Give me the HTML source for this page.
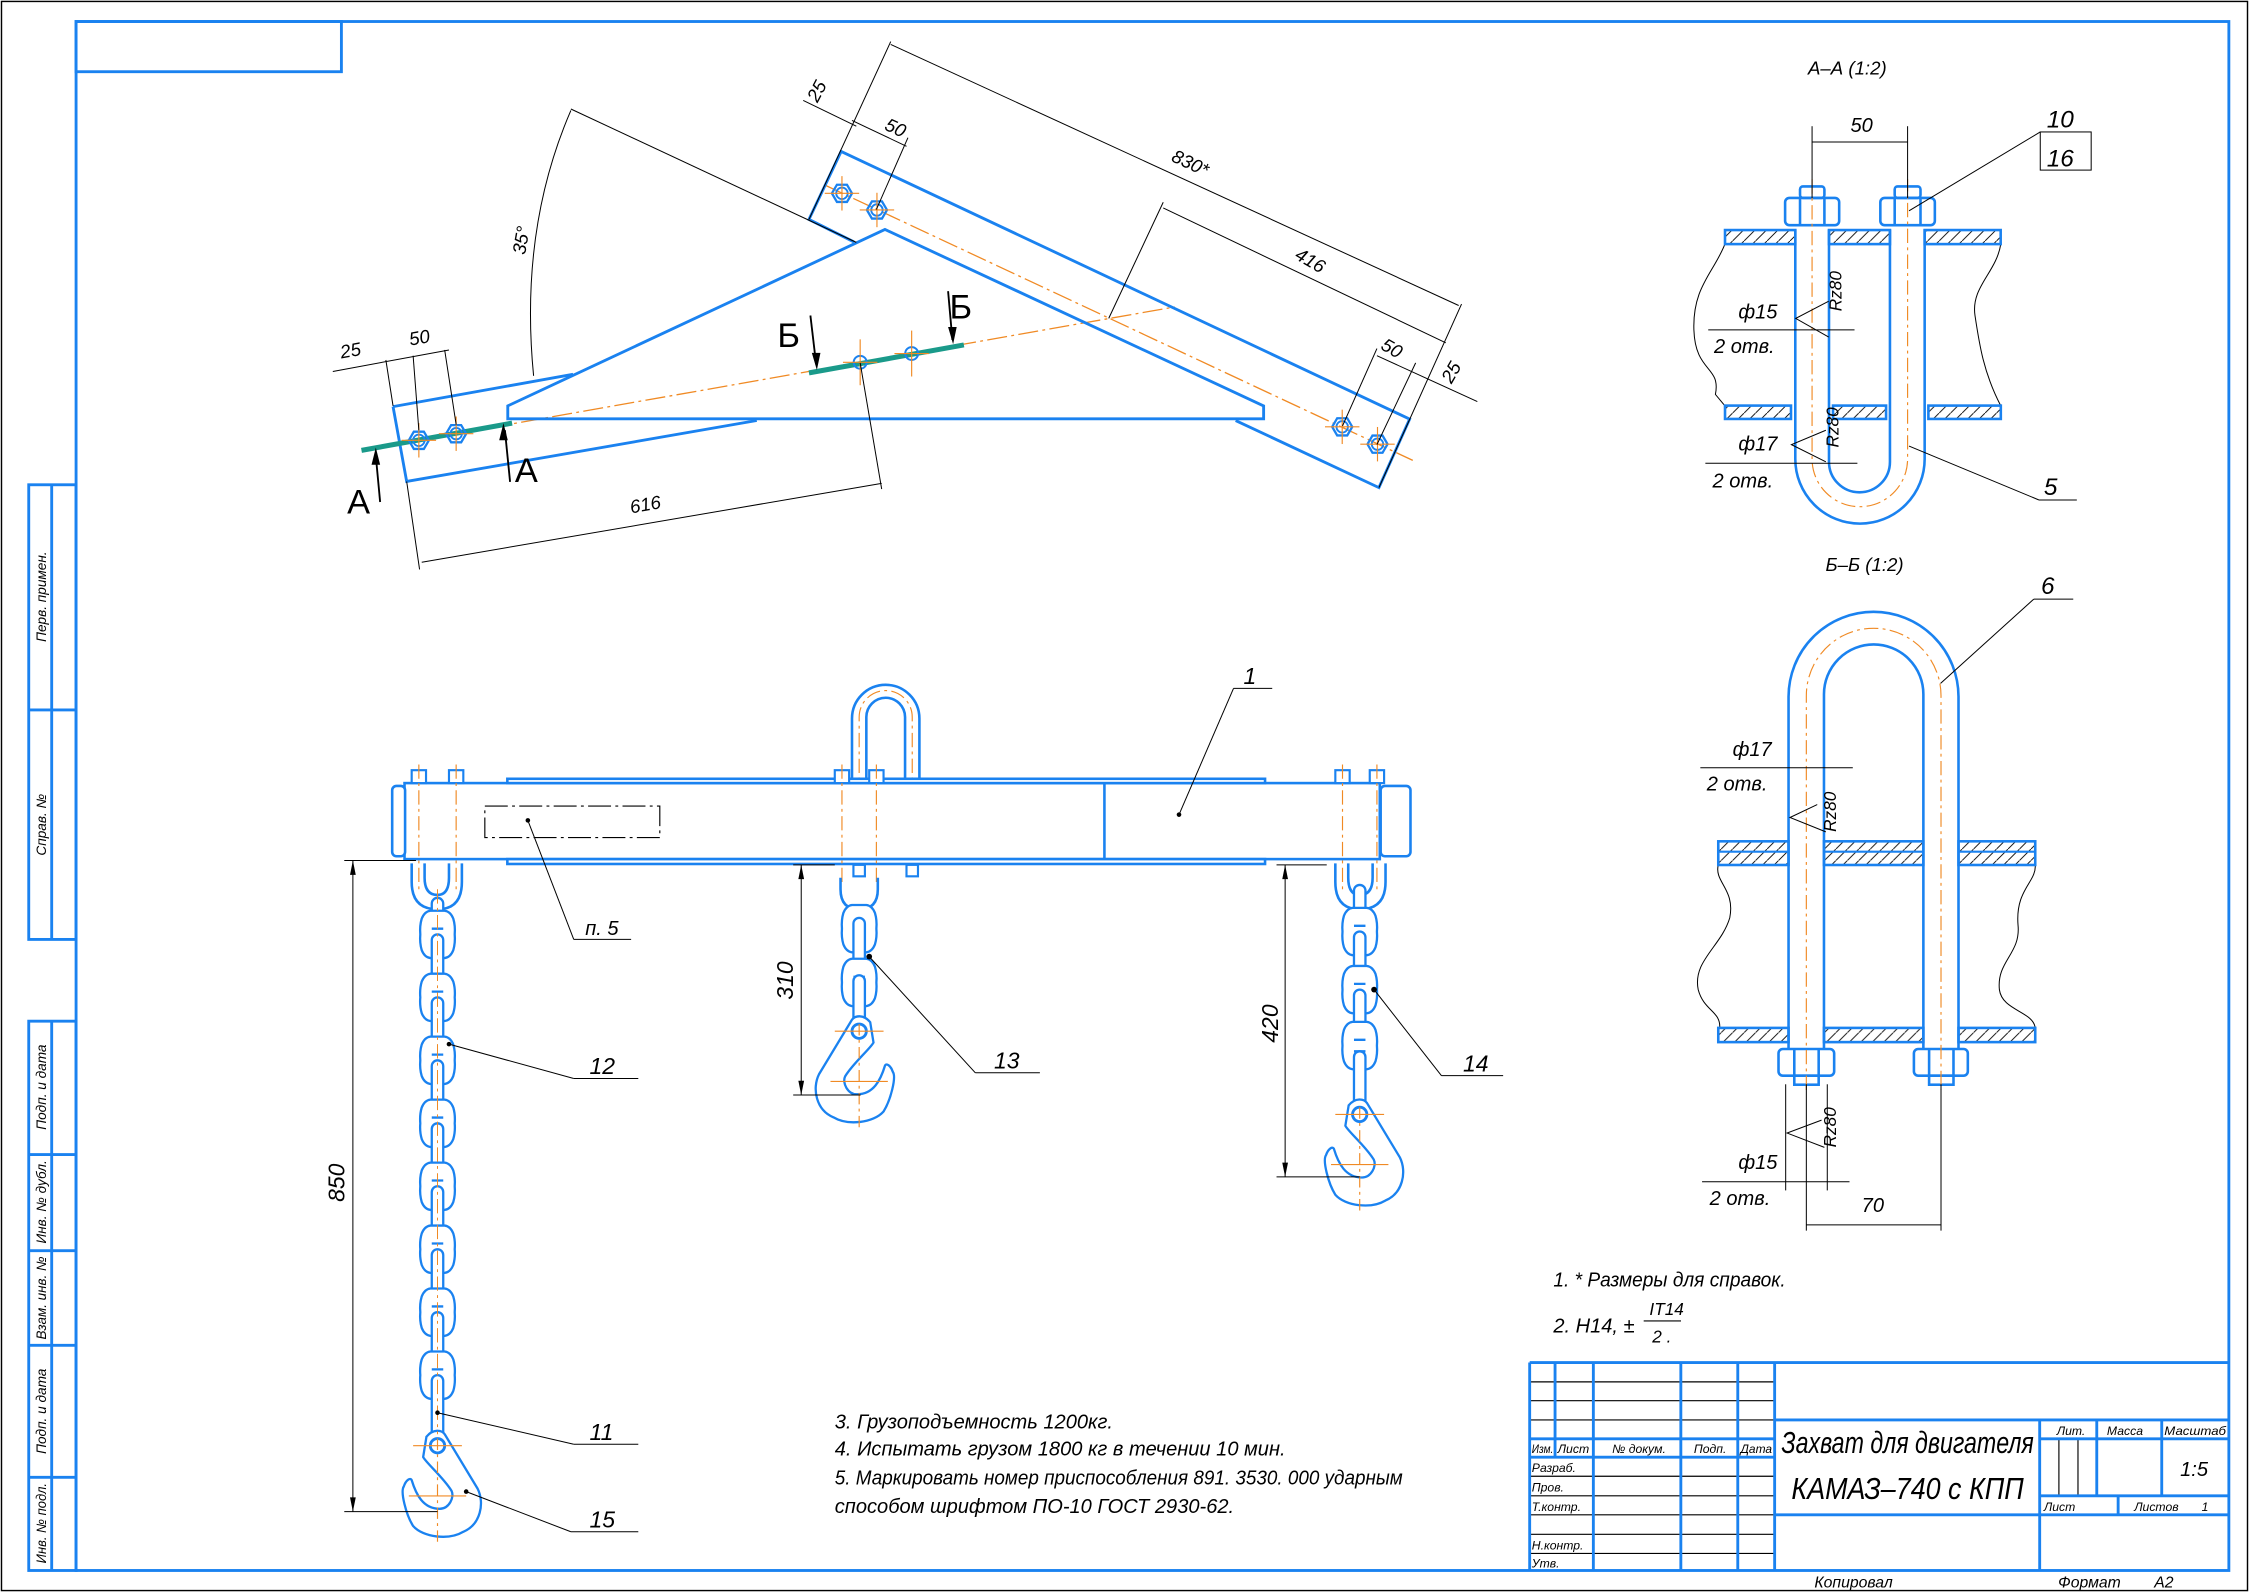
<!DOCTYPE html>
<html><head><meta charset="utf-8"><style>
html,body{margin:0;padding:0;background:#fff;}
svg{display:block;}
text{font-family:"Liberation Sans",sans-serif;font-style:italic;fill:#000;}
</style></head><body>
<svg width="2249" height="1592" viewBox="0 0 1568 1110" xmlns="http://www.w3.org/2000/svg">
<defs>
<pattern id="h" patternUnits="userSpaceOnUse" width="8" height="8"><line x1="0" y1="8" x2="8" y2="0" stroke="#000" stroke-width="0.6"/></pattern>
<g id="nut" fill="none"><polygon points="-7,0 -3.5,-6 3.5,-6 7,0 3.5,6 -3.5,6" stroke="#1a82f0" stroke-width="1.6"/><circle r="4" stroke="#1a82f0" stroke-width="1.3"/><line x1="-12" y1="0" x2="12" y2="0" stroke="#f08a24" stroke-width="0.8"/><line x1="0" y1="-12" x2="0" y2="12" stroke="#f08a24" stroke-width="0.8"/></g>
<g id="hole" fill="none"><circle r="4.5" stroke="#1a82f0" stroke-width="1.4"/><line x1="-12" y1="0" x2="12" y2="0" stroke="#f08a24" stroke-width="0.8"/><line x1="0" y1="-16" x2="0" y2="16" stroke="#f08a24" stroke-width="0.8"/></g>
<path id="wl" d="M -5 -16.5 L 5 -16.5 Q 9 -16 11 -11 Q 12.5 -6 12 0 Q 12.5 6 11 11 Q 9 16 5 16.5 L -5 16.5 Q -9 16 -11 11 Q -12.5 6 -12 0 Q -12.5 -6 -11 -11 Q -9 -16 -5 -16.5 Z M -4 -4 L 4 -4 M -4 4 L 4 4" fill="#fff" stroke="#1a82f0" stroke-width="1.6"/>
<rect id="nl" x="-4" y="0" width="8" height="44" rx="4" fill="#fff" stroke="#1a82f0" stroke-width="1.6"/>
<g id="hook"><path d="M -7.7 -6.3 C -3 -12 3 -11 5.1 -7.9 L 28 30 C 33 40 30 55 18 60 C 8 66 -10 64 -17 56 C -22 48 -26 32 -23.5 28.4 C -22 24 -19 22 -18 24 C -15 34 -10 44 1.6 44 C 8 44 12 36 9.8 31.5 C 4 22 -8 12 -10 7.9 Z" fill="#fff" stroke="#1a82f0" stroke-width="1.6"/><circle r="5" fill="none" stroke="#1a82f0" stroke-width="2"/><line x1="-17" y1="0" x2="17" y2="0" stroke="#f08a24" stroke-width="0.8"/><line x1="-20" y1="35" x2="20" y2="35" stroke="#f08a24" stroke-width="0.8"/><line x1="0" y1="-5" x2="0" y2="68" stroke="#f08a24" stroke-width="0.8" stroke-dasharray="8 3 2 3"/></g>
</defs>

<rect x="1" y="1" width="1566" height="1108" fill="none" stroke="#000" stroke-width="1"/>
<g fill="none" stroke="#1a82f0" stroke-width="2">
<rect x="53" y="15" width="1501" height="1080"/>
<rect x="53" y="15" width="185" height="35"/>
<rect x="20" y="338" width="33" height="317"/>
<line x1="36" y1="338" x2="36" y2="655"/><line x1="20" y1="495" x2="53" y2="495"/>
<rect x="20" y="712" width="33" height="383"/>
<line x1="36" y1="712" x2="36" y2="1095"/>
<line x1="20" y1="805" x2="53" y2="805"/><line x1="20" y1="872" x2="53" y2="872"/><line x1="20" y1="938" x2="53" y2="938"/><line x1="20" y1="1030" x2="53" y2="1030"/>
</g>
<g font-size="9.5">
<text transform="translate(32,416) rotate(-90)" text-anchor="middle">Перв. примен.</text>
<text transform="translate(32,575) rotate(-90)" text-anchor="middle">Справ. №</text>
<text transform="translate(32,758) rotate(-90)" text-anchor="middle">Подп. и дата</text>
<text transform="translate(32,838) rotate(-90)" text-anchor="middle" textLength="58" lengthAdjust="spacingAndGlyphs">Инв. № дубл.</text>
<text transform="translate(32,905) rotate(-90)" text-anchor="middle" textLength="58" lengthAdjust="spacingAndGlyphs">Взам. инв. №</text>
<text transform="translate(32,984) rotate(-90)" text-anchor="middle">Подп. и дата</text>
<text transform="translate(32,1062) rotate(-90)" text-anchor="middle" textLength="56" lengthAdjust="spacingAndGlyphs">Инв. № подл.</text>
</g>

<g stroke="#000" stroke-width="0.8">
<line x1="1066.5" y1="963.5" x2="1237.3" y2="963.5"/><line x1="1066.5" y1="976.6" x2="1237.3" y2="976.6"/><line x1="1066.5" y1="990" x2="1237.3" y2="990"/>
<line x1="1066.5" y1="1029.3" x2="1237.3" y2="1029.3"/><line x1="1066.5" y1="1042.9" x2="1237.3" y2="1042.9"/><line x1="1066.5" y1="1056.2" x2="1237.3" y2="1056.2"/><line x1="1066.5" y1="1069.8" x2="1237.3" y2="1069.8"/><line x1="1066.5" y1="1083.1" x2="1237.3" y2="1083.1"/>
<line x1="1435.5" y1="1003.2" x2="1435.5" y2="1042.9"/><line x1="1448.8" y1="1003.2" x2="1448.8" y2="1042.9"/>
</g>
<g stroke="#1a82f0" stroke-width="2">
<line x1="1066.5" y1="950" x2="1554" y2="950"/>
<line x1="1066.5" y1="1003.2" x2="1237.3" y2="1003.2"/><line x1="1066.5" y1="1016" x2="1237.3" y2="1016"/>
<line x1="1237.3" y1="990" x2="1554" y2="990"/>
<line x1="1422.1" y1="1003.2" x2="1554" y2="1003.2"/>
<line x1="1422.1" y1="1042.9" x2="1554" y2="1042.9"/>
<line x1="1237.3" y1="1056.2" x2="1554" y2="1056.2"/>
<line x1="1066.5" y1="950" x2="1066.5" y2="1095"/>
<line x1="1084.2" y1="950" x2="1084.2" y2="1016"/>
<line x1="1110.9" y1="950" x2="1110.9" y2="1095"/>
<line x1="1171.9" y1="950" x2="1171.9" y2="1095"/>
<line x1="1211.6" y1="950" x2="1211.6" y2="1095"/>
<line x1="1237.3" y1="950" x2="1237.3" y2="1095"/>
<line x1="1422.1" y1="990" x2="1422.1" y2="1095"/>
<line x1="1461.9" y1="990" x2="1461.9" y2="1042.9"/>
<line x1="1507.2" y1="990" x2="1507.2" y2="1042.9"/>
<line x1="1476.8" y1="1042.9" x2="1476.8" y2="1056.2"/>
</g>
<g font-size="8.5">
<text x="1068" y="1013" textLength="15" lengthAdjust="spacingAndGlyphs">Изм.</text><text x="1086" y="1013" textLength="22" lengthAdjust="spacingAndGlyphs">Лист</text><text x="1124" y="1013">№ докум.</text><text x="1181" y="1013">Подп.</text><text x="1213.5" y="1013" textLength="22" lengthAdjust="spacingAndGlyphs">Дата</text>
<text x="1068" y="1026.5">Разраб.</text><text x="1068" y="1040">Пров.</text><text x="1068" y="1053.5">Т.контр.</text><text x="1068" y="1080.5">Н.контр.</text><text x="1068" y="1093">Утв.</text>
<text x="1434" y="1000.5">Лит.</text><text x="1469" y="1000.5">Масса</text><text x="1509" y="1000.5" textLength="43" lengthAdjust="spacingAndGlyphs">Масштаб</text>
<text x="1425" y="1053.5">Лист</text><text x="1488" y="1053.5">Листов</text><text x="1535" y="1053.5">1</text>
</g>
<text x="1520" y="1029" font-size="14">1:5</text>
<text x="1330" y="1013" font-size="21" text-anchor="middle" textLength="176" lengthAdjust="spacingAndGlyphs">Захват для двигателя</text>
<text x="1330" y="1045" font-size="21" text-anchor="middle" textLength="162" lengthAdjust="spacingAndGlyphs">КАМАЗ–740 с КПП</text>
<text x="1265" y="1107" font-size="11">Копировал</text>
<text x="1435" y="1107" font-size="11">Формат</text><text x="1502" y="1107" font-size="11">А2</text>

<g font-size="14">
<text x="1083" y="897" textLength="162" lengthAdjust="spacingAndGlyphs">1.  * Размеры для справок.</text>
<text x="1083" y="929">2. H14, ±</text>
<text x="1150" y="917" font-size="12">IT14</text>
<text x="1152" y="936" font-size="12">2 .</text>
<text x="582" y="996">3. Грузоподъемность 1200кг.</text>
<text x="582" y="1015">4. Испытать грузом 1800 кг в течении 10 мин.</text>
<text x="582" y="1035" textLength="396" lengthAdjust="spacingAndGlyphs">5. Маркировать номер приспособления 891. 3530. 000 ударным</text>
<text x="582" y="1055">способом шрифтом ПО-10 ГОСТ 2930-62.</text>
</g>
<line x1="1146" y1="921" x2="1172" y2="921" stroke="#000" stroke-width="0.8"/>

<!-- TOP VIEW -->
<g fill="none" stroke="#f08a24" stroke-width="0.9" stroke-dasharray="14 3 2 3">
<line x1="255" y1="313.5" x2="819" y2="214"/>
<line x1="575" y1="129" x2="985" y2="321"/>
</g>
<g fill="none" stroke="#1a82f0" stroke-width="2">
<path d="M617 160 L354 283 L354 292 L881 292 L881 283 Z"/>
<path d="M274 283.5 L399.5 261"/>
<path d="M274 283.5 L283.5 335.7 L527.6 293.2"/>
<path d="M595.4 168.7 L564 153 L586.4 105.6 L982.8 292.2 L961.4 340 L861.5 293.2"/>
</g>
<g stroke="#1a9a8a" stroke-width="3.5">
<line x1="252" y1="314" x2="357" y2="295"/>
<line x1="564" y1="260" x2="672" y2="240.5"/>
</g>
<use href="#nut" x="292" y="307"/><use href="#nut" x="318" y="302.4"/>
<use href="#nut" x="587" y="134.8"/><use href="#nut" x="611.4" y="146.4"/>
<use href="#nut" x="935.8" y="297.6"/><use href="#nut" x="960.4" y="309.7"/>
<use href="#hole" x="599.7" y="252.6"/><use href="#hole" x="635.6" y="246.5"/>
<g fill="none" stroke="#000" stroke-width="0.7">
<line x1="232" y1="259" x2="313" y2="244"/>
<line x1="269" y1="251" x2="274" y2="283"/><line x1="288" y1="248" x2="292" y2="300"/><line x1="310" y1="244" x2="318" y2="296"/>
<path d="M398 77 Q362 160 372 262"/>
<line x1="398" y1="76" x2="597" y2="169"/>
<line x1="564" y1="153" x2="621" y2="29"/><line x1="961.4" y1="340" x2="1019" y2="212"/>
<line x1="621" y1="31" x2="1017" y2="213"/>
<line x1="773" y1="222" x2="811" y2="141"/><line x1="811" y1="145" x2="1008" y2="239"/>
<line x1="560" y1="70" x2="597" y2="88"/><line x1="594" y1="84" x2="632" y2="102"/>
<line x1="611" y1="146" x2="633" y2="96"/>
<line x1="936" y1="297" x2="960" y2="243"/><line x1="960" y1="310" x2="987" y2="253"/>
<line x1="960" y1="248" x2="1030" y2="280"/>
<line x1="283.5" y1="335.7" x2="292.5" y2="397"/><line x1="599.7" y1="253" x2="614.7" y2="341"/>
<line x1="294" y1="392" x2="614.7" y2="337"/>
</g>
<g stroke="#000" stroke-width="1.3">
<line x1="265" y1="350" x2="262" y2="318"/><line x1="355.6" y1="336" x2="352" y2="300"/>
<line x1="565" y1="220" x2="569" y2="254"/><line x1="661" y1="203" x2="664" y2="237"/>
</g>
<g fill="#000">
<polygon points="262,312 259,324 265,324"/><polygon points="351,295 348,307 354,307"/>
<polygon points="569.5,258 566,246 572,246"/><polygon points="664.5,240 661,228 667,228"/>
</g>
<g font-size="13">
<text x="238" y="250" transform="rotate(-10 238 250)">25</text>
<text x="286" y="241" transform="rotate(-10 286 241)">50</text>
<text x="366" y="178" transform="rotate(-80 366 178)">35°</text>
<text x="570" y="72" transform="rotate(-62 570 72)">25</text>
<text x="616" y="90" transform="rotate(25 616 90)">50</text>
<text x="816" y="112" transform="rotate(25 816 112)">830*</text>
<text x="902" y="180" transform="rotate(30 902 180)">416</text>
<text x="962" y="243" transform="rotate(30 962 243)">50</text>
<text x="1012" y="268" transform="rotate(-60 1012 268)">25</text>
<text x="440" y="358" transform="rotate(-10 440 358)">616</text>
</g>
<g font-size="24">
<text x="242" y="358" style="font-style:normal">А</text><text x="359" y="336" style="font-style:normal">А</text>
<text x="542" y="242" style="font-style:normal">Б</text><text x="662" y="222" style="font-style:normal">Б</text>
</g>

<!-- FRONT VIEW -->
<g fill="none" stroke="#1a82f0" stroke-width="1.8">
<path d="M594 546 L594 501 A23.5 23.5 0 0 1 641 501 L641 546"/>
<path d="M604 546 L604 500 A13.5 13.5 0 0 1 631 500 L631 546"/>
</g>
<path d="M599 611 L599 500 A18.5 18.5 0 0 1 636 500 L636 611" fill="none" stroke="#f08a24" stroke-width="0.8" stroke-dasharray="10 3 2 3"/>
<g fill="#fff" stroke="#1a82f0" stroke-width="1.8">
<rect x="282" y="546" width="680" height="53"/>
<rect x="273.4" y="548" width="9" height="49" rx="3"/>
<rect x="962.6" y="548" width="20.8" height="49" rx="3"/>
<rect x="353.7" y="543" width="528.3" height="3"/>
<rect x="353.7" y="599" width="528.3" height="3.4"/>
</g>
<line x1="770" y1="546" x2="770" y2="599" stroke="#1a82f0" stroke-width="1.8"/>
<rect x="338" y="562" width="122" height="22" fill="none" stroke="#000" stroke-width="0.8" stroke-dasharray="16 3 2 3"/>
<g fill="#fff" stroke="#1a82f0" stroke-width="1.5">
<rect x="287" y="537" width="10" height="9"/><rect x="313" y="537" width="10" height="9"/>
<rect x="582" y="537" width="10" height="9"/><rect x="606" y="537" width="10" height="9"/>
<rect x="931" y="537" width="10" height="9"/><rect x="955" y="537" width="10" height="9"/>
<rect x="595" y="603" width="8" height="8"/><rect x="632" y="603" width="8" height="8"/>
</g>
<g stroke="#f08a24" stroke-width="0.8" stroke-dasharray="10 3 2 3">
<line x1="292" y1="533" x2="292" y2="620"/><line x1="318" y1="533" x2="318" y2="620"/>
<line x1="587" y1="533" x2="587" y2="616"/><line x1="611" y1="533" x2="611" y2="616"/>
<line x1="936" y1="533" x2="936" y2="620"/><line x1="960" y1="533" x2="960" y2="620"/>
</g>
<g fill="none" stroke="#1a82f0" stroke-width="1.8">
<path d="M287 602 L287 615 Q287 634 305 634 Q322 634 322 615 L322 602"/>
<path d="M296 602 L296 612 Q296 624 305 624 Q313 624 313 612 L313 602"/>
<path d="M931 602 L931 615 Q931 634 948 634 Q966 634 966 615 L966 602"/>
<path d="M940 602 L940 612 Q940 624 948 624 Q957 624 957 612 L957 602"/>
<path d="M586 612 L586 620 Q586 634 599 634 Q612 634 612 620 L612 612"/>
</g>
<use href="#nl" x="305" y="626"/>
<use href="#wl" x="305" y="651.5"/><use href="#nl" x="305" y="651.5"/>
<use href="#wl" x="305" y="695.4"/><use href="#nl" x="305" y="695.4"/>
<use href="#wl" x="305" y="739.3"/><use href="#nl" x="305" y="739.3"/>
<use href="#wl" x="305" y="783.2"/><use href="#nl" x="305" y="783.2"/>
<use href="#wl" x="305" y="827.1"/><use href="#nl" x="305" y="827.1"/>
<use href="#wl" x="305" y="871"/><use href="#nl" x="305" y="871"/>
<use href="#wl" x="305" y="914.9"/><use href="#nl" x="305" y="914.9"/>
<use href="#wl" x="305" y="958.8"/><use href="#nl" x="305" y="958.8"/>
<use href="#hook" x="305" y="1008"/>
<line x1="305" y1="620" x2="305" y2="1000" stroke="#f08a24" stroke-width="0.7" stroke-dasharray="10 3 2 3"/>
<use href="#wl" x="599" y="647.5"/>
<use href="#nl" x="599" y="640"/>
<use href="#wl" x="599" y="685"/>
<use href="#nl" x="599" y="680"/>
<use href="#hook" transform="translate(599,719) scale(-1,1)"/>
<use href="#nl" x="948" y="617"/>
<use href="#wl" x="948" y="649.5"/><use href="#nl" x="948" y="649.5"/>
<use href="#wl" x="948" y="690"/><use href="#nl" x="948" y="690"/>
<use href="#wl" x="948" y="729"/><use href="#nl" x="948" y="733"/>
<use href="#hook" x="948" y="777"/>
<g fill="none" stroke="#000" stroke-width="0.7">
<line x1="240" y1="600" x2="290" y2="600"/><line x1="240" y1="1054" x2="305" y2="1054"/><line x1="246" y1="600" x2="246" y2="1054"/>
<line x1="553" y1="603" x2="582" y2="603"/><line x1="553" y1="763.5" x2="600" y2="763.5"/><line x1="558.6" y1="603" x2="558.6" y2="763.5"/>
<line x1="890" y1="603" x2="925" y2="603"/><line x1="890" y1="820.6" x2="948" y2="820.6"/><line x1="896" y1="603" x2="896" y2="820.6"/>
<line x1="822" y1="568" x2="860" y2="480"/><line x1="860" y1="480" x2="887" y2="480"/>
<line x1="368" y1="572" x2="400" y2="655"/><line x1="400" y1="655" x2="440" y2="655"/>
<line x1="313" y1="728" x2="400" y2="752"/><line x1="400" y1="752" x2="445" y2="752"/>
<line x1="606" y1="667" x2="680" y2="748"/><line x1="680" y1="748" x2="725" y2="748"/>
<line x1="958" y1="690" x2="1005" y2="750"/><line x1="1005" y1="750" x2="1048" y2="750"/>
<line x1="305" y1="985" x2="400" y2="1007"/><line x1="400" y1="1007" x2="445" y2="1007"/>
<line x1="325" y1="1040" x2="398" y2="1068"/><line x1="398" y1="1068" x2="445" y2="1068"/>
</g>
<g fill="#000">
<polygon points="246,600 244,610 248,610"/><polygon points="246,1054 244,1044 248,1044"/>
<polygon points="558.6,603 556.6,613 560.6,613"/><polygon points="558.6,763.5 556.6,753.5 560.6,753.5"/>
<polygon points="896,603 894,613 898,613"/><polygon points="896,820.6 894,810.6 898,810.6"/>
<circle cx="822" cy="568" r="1.6"/><circle cx="368" cy="572" r="1.6"/><circle cx="313" cy="728" r="1.6"/><circle cx="606" cy="667" r="2"/><circle cx="958" cy="690" r="2"/><circle cx="305" cy="985" r="1.6"/><circle cx="325" cy="1040" r="1.6"/>
</g>
<g font-size="16">
<text x="240" y="838" transform="rotate(-90 240 838)">850</text>
<text x="553" y="697" transform="rotate(-90 553 697)">310</text>
<text x="891" y="727" transform="rotate(-90 891 727)">420</text>
<text x="867" y="477">1</text>
<text x="408" y="652" font-size="14">п. 5</text>
<text x="411" y="749">12</text>
<text x="693" y="745">13</text>
<text x="1020" y="747">14</text>
<text x="411" y="1004">11</text>
<text x="411" y="1065">15</text>
</g>

<!-- SECTION A-A -->
<text x="1288" y="52" font-size="13" text-anchor="middle">А–А (1:2)</text>
<g fill="none" stroke="#000" stroke-width="0.7">
<path d="M1202.7 170 C1195 190 1180 200 1181 230 C1182 260 1200 255 1196 275 L1202.7 283"/>
<path d="M1395 170 C1392 190 1374 200 1377 220 C1380 240 1383 260 1395 283"/>
</g>
<g stroke="#1a82f0" stroke-width="1.8">
<rect x="1202.7" y="160.4" width="49" height="9.8" fill="url(#h)"/>
<rect x="1275.2" y="160.4" width="42.5" height="9.8" fill="url(#h)"/>
<rect x="1341.9" y="160.4" width="53" height="9.8" fill="url(#h)"/>
<rect x="1202.7" y="282.8" width="46" height="9.3" fill="url(#h)"/>
<rect x="1278" y="282.8" width="37" height="9.3" fill="url(#h)"/>
<rect x="1344.5" y="282.8" width="50.5" height="9.3" fill="url(#h)"/>
</g>
<g fill="none" stroke="#1a82f0" stroke-width="1.8">
<path d="M1251.7 160 L1251.7 320 A45.1 45.1 0 0 0 1341.9 320 L1341.9 160"/>
<path d="M1275.2 160 L1275.2 322 A21.25 21.25 0 0 0 1317.7 322 L1317.7 160"/>
<rect x="1244.6" y="138" width="37.7" height="19" rx="3"/><line x1="1255" y1="138" x2="1255" y2="157"/><line x1="1272" y1="138" x2="1272" y2="157"/>
<rect x="1255" y="130" width="17" height="8" rx="2"/>
<rect x="1311" y="138" width="38" height="19" rx="3"/><line x1="1321" y1="138" x2="1321" y2="157"/><line x1="1339" y1="138" x2="1339" y2="157"/>
<rect x="1321" y="130" width="18" height="8" rx="2"/>
</g>
<path d="M1263.4 125 L1263.4 320 A33.3 33.3 0 0 0 1330 320 L1330 125" fill="none" stroke="#f08a24" stroke-width="0.8" stroke-dasharray="10 3 2 3"/>
<g fill="none" stroke="#000" stroke-width="0.7">
<line x1="1263.4" y1="88" x2="1263.4" y2="138"/><line x1="1330" y1="88" x2="1330" y2="138"/><line x1="1263.4" y1="99" x2="1330" y2="99"/>
<line x1="1331" y1="147" x2="1422.5" y2="92"/><rect x="1422.5" y="92" width="35.5" height="26.6"/>
<line x1="1191" y1="230" x2="1293" y2="230"/>
<line x1="1189" y1="323" x2="1295" y2="323"/>
<polyline points="1275,210 1252,222 1275,235"/>
<polyline points="1273,300 1249,310 1273,322"/>
<line x1="1331" y1="311" x2="1421.6" y2="348.6"/><line x1="1421.6" y1="348.6" x2="1448" y2="348.6"/>
</g>
<g font-size="14">
<text x="1298" y="92" text-anchor="middle">50</text>
<text x="1427" y="89" font-size="17">10</text><text x="1427" y="116" font-size="17">16</text>
<text x="1212" y="222">ф15</text><text x="1195" y="246">2 отв.</text>
<text x="1212" y="314">ф17</text><text x="1194" y="340">2 отв.</text>
<text x="1284" y="217" font-size="12" transform="rotate(-90 1284 217)">Rz80</text>
<text x="1282" y="312" font-size="12" transform="rotate(-90 1282 312)">Rz80</text>
<text x="1425" y="345" font-size="17">5</text>
</g>

<!-- SECTION B-B -->
<text x="1300" y="398" font-size="13" text-anchor="middle">Б–Б (1:2)</text>
<g fill="none" stroke="#000" stroke-width="0.7">
<path d="M1198 603 C1195 615 1210 620 1206 640 C1200 660 1180 670 1184 690 C1188 705 1200 705 1199 717"/>
<path d="M1419 603 C1420 615 1405 620 1407 645 C1409 665 1392 670 1394 690 C1396 705 1418 705 1419 717"/>
</g>
<g stroke="#1a82f0" stroke-width="1.8" fill="url(#h)">
<rect x="1198" y="586.6" width="49" height="16.5"/>
<rect x="1271.7" y="586.6" width="69.3" height="16.5"/>
<rect x="1365.5" y="586.6" width="53.5" height="16.5"/>
<rect x="1198" y="716.7" width="49" height="9.9"/>
<rect x="1271.7" y="716.7" width="69.3" height="9.9"/>
<rect x="1365.5" y="716.7" width="53.5" height="9.9"/>
</g>
<g stroke="#1a82f0" stroke-width="1.5"><line x1="1198" y1="593.8" x2="1247" y2="593.8"/><line x1="1271.7" y1="593.8" x2="1341" y2="593.8"/><line x1="1365.5" y1="593.8" x2="1419" y2="593.8"/></g>
<g fill="none" stroke="#1a82f0" stroke-width="1.8">
<path d="M1247 731 L1247 485.75 A59.25 59.25 0 0 1 1365.5 485.75 L1365.5 731"/>
<path d="M1271.7 731 L1271.7 484 A34.65 34.65 0 0 1 1341 484 L1341 731"/>
<rect x="1240" y="731.4" width="38.8" height="18.6" rx="3"/><line x1="1251" y1="731.4" x2="1251" y2="750"/><line x1="1268" y1="731.4" x2="1268" y2="750"/>
<rect x="1251" y="750" width="17" height="6.3"/>
<rect x="1334.4" y="731.4" width="37.6" height="18.6" rx="3"/><line x1="1345" y1="731.4" x2="1345" y2="750"/><line x1="1362" y1="731.4" x2="1362" y2="750"/>
<rect x="1345" y="750" width="17" height="6.3"/>
</g>
<path d="M1259.4 760 L1259.4 485 A46.95 46.95 0 0 1 1353.3 485 L1353.3 760" fill="none" stroke="#f08a24" stroke-width="0.8" stroke-dasharray="10 3 2 3"/>
<g fill="none" stroke="#000" stroke-width="0.7">
<line x1="1185.5" y1="535.3" x2="1291.8" y2="535.3"/>
<line x1="1186.7" y1="824" x2="1289.5" y2="824"/>
<line x1="1259.4" y1="756" x2="1259.4" y2="858"/><line x1="1353.3" y1="756" x2="1353.3" y2="858"/><line x1="1259.4" y1="854" x2="1353.3" y2="854"/>
<line x1="1245" y1="756" x2="1245" y2="830"/><line x1="1274" y1="756" x2="1274" y2="830"/>
<polyline points="1267,561 1248,570 1273,580"/>
<polyline points="1270,781 1246,790 1272,800"/>
<line x1="1353" y1="476.5" x2="1418" y2="417.7"/><line x1="1418" y1="417.7" x2="1445.5" y2="417.7"/>
</g>
<g font-size="14">
<text x="1208" y="527">ф17</text><text x="1190" y="551">2 отв.</text>
<text x="1212" y="815">ф15</text><text x="1192" y="840">2 отв.</text>
<text x="1298" y="845">70</text>
<text x="1280" y="580" font-size="12" transform="rotate(-90 1280 580)">Rz80</text>
<text x="1280" y="800" font-size="12" transform="rotate(-90 1280 800)">Rz80</text>
<text x="1423" y="414" font-size="17">6</text>
</g>
</svg>
</body></html>
